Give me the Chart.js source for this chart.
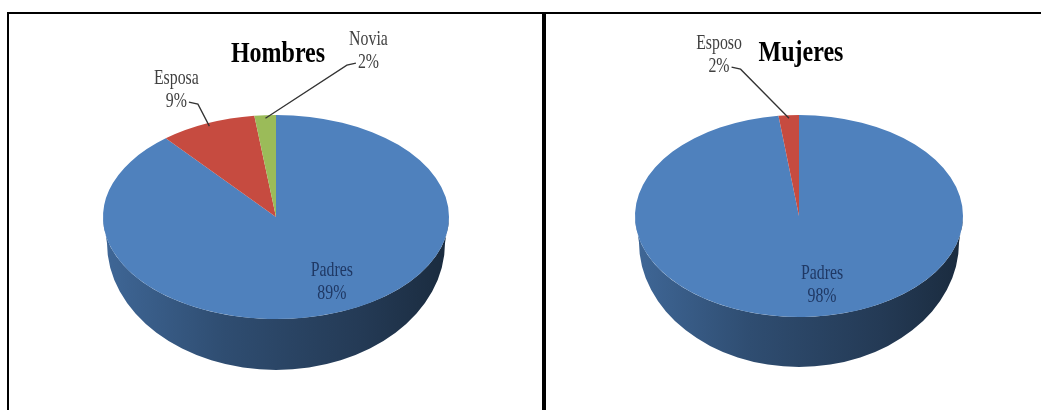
<!DOCTYPE html>
<html>
<head>
<meta charset="utf-8">
<script src="https://cdn.jsdelivr.net/npm/chart.js@4.4.1/dist/chart.umd.min.js"></script>
<style>
  html, body { margin: 0; background: #fff; }
  body { width: 1041px; height: 410px; position: relative; overflow: hidden; }
  .frame { position: absolute; left: 7px; top: 12px; width: 1100px; height: 420px;
           border-left: 2px solid #000; border-top: 2px solid #000; }
  .divider { position: absolute; left: 542px; top: 12px; width: 4px; height: 400px; background: #000; }
  .panel { position: absolute; top: 14px; height: 396px; }
  #p1 { left: 9px; width: 533px; }
  #p2 { left: 546px; width: 495px; }
</style>
</head>
<body>
<div class="frame"></div>
<div class="divider"></div>
<div class="panel" id="p1"><canvas id="hombresChart"></canvas></div>
<div class="panel" id="p2"><canvas id="mujeresChart"></canvas></div>

<script>
const titles = ["Hombres", "Mujeres"];
const hombresLabels = ["Padres", "Esposa", "Novia"];
const hombresValues = [89, 9, 2];
const mujeresLabels = ["Padres", "Esposo"];
const mujeresValues = [98, 2];

const sliceColors = ["#4F81BD", "#C64B40", "#9BBB59"];

function shade(hex, f) {
  const n = parseInt(hex.slice(1), 16);
  const r = (n >> 16) & 255, g = (n >> 8) & 255, b = n & 255;
  return `rgb(${Math.round(r * f)},${Math.round(g * f)},${Math.round(b * f)})`;
}

function drawScaledText(ctx, text, x, y, font, color, sx) {
  ctx.save();
  ctx.font = font;
  ctx.fillStyle = color;
  ctx.textAlign = "center";
  ctx.textBaseline = "alphabetic";
  ctx.translate(x, y);
  ctx.scale(sx, 1);
  ctx.fillText(text, 0, 0);
  const w = ctx.measureText(text).width * sx;
  ctx.restore();
  return w;
}

// tilts the pie into an ellipse and draws the front wall
const pie3d = {
  id: "pie3d",
  beforeDatasetsDraw(chart, args, o) {
    const ctx = chart.ctx;
    const arcs = chart.getDatasetMeta(0).data;
    const { x, y, outerRadius: r } = arcs[0].getProps(["x", "y", "outerRadius"], true);
    const ry = r * o.tilt;
    const bx = r * o.bottomRx, by = r * o.bottomRy;
    const colors = chart.data.datasets[0].backgroundColor;

    arcs.forEach((arc, i) => {
      const { startAngle, endAngle } = arc.getProps(["startAngle", "endAngle"], true);
      for (const base of [-2 * Math.PI, 0, 2 * Math.PI]) {
        const a1 = Math.max(startAngle, base);
        const a2 = Math.min(endAngle, base + Math.PI);
        if (a2 <= a1) continue;
        const g = ctx.createLinearGradient(x - r, 0, x + r, 0);
        g.addColorStop(0, shade(colors[i], 0.8));
        g.addColorStop(0.35, shade(colors[i], 0.6));
        g.addColorStop(0.75, shade(colors[i], 0.45));
        g.addColorStop(1, shade(colors[i], 0.33));
        ctx.beginPath();
        ctx.ellipse(x, y, r, ry, 0, a1, a2);
        ctx.ellipse(x, y + o.depth, bx, by, 0, a2, a1, true);
        ctx.closePath();
        ctx.fillStyle = g;
        ctx.fill();
      }
    });

    ctx.save();
    ctx.translate(x, y);
    ctx.scale(1, o.tilt);
    ctx.translate(-x, -y);
  },
  afterDatasetsDraw(chart) {
    chart.ctx.restore();
  },
  afterDraw(chart, args, o) {
    const ctx = chart.ctx;
    const ds = chart.data.datasets[0];
    const total = ds.data.reduce((a, b) => a + b, 0);
    const arcs = chart.getDatasetMeta(0).data;
    const { x, y, outerRadius: r } = arcs[0].getProps(["x", "y", "outerRadius"], true);
    const ry = r * o.tilt;
    const labelFont = '22px "Liberation Serif"';

    drawScaledText(ctx, o.title, x + 2, o.titleY, 'bold 30px "Liberation Serif"', "#000", 0.8);

    arcs.forEach((arc, i) => {
      const { startAngle, endAngle } = arc.getProps(["startAngle", "endAngle"], true);
      const mid = (startAngle + endAngle) / 2;
      const name = chart.data.labels[i];
      const pct = Math.round(ds.data[i] / total * 100) + "%";
      const callout = o.callouts[i];

      if (!callout) {
        const lx = x + r * o.inside * Math.cos(mid) + o.insideShift;
        const ly = y + ry * o.inside * Math.sin(mid);
        drawScaledText(ctx, name, lx, ly - 6, labelFont, "#1F3864", 0.72);
        drawScaledText(ctx, pct, lx, ly + 17, labelFont, "#1F3864", 0.72);
        return;
      }

      const ex = x + r * 0.97 * Math.cos(mid);
      const ey = y + ry * 0.97 * Math.sin(mid);
      const tx = ex + callout[0], ty = ey + callout[1];
      drawScaledText(ctx, name, tx, ty, labelFont, "#404040", 0.72);
      const w2 = drawScaledText(ctx, pct, tx, ty + 23, labelFont, "#404040", 0.72);

      const dir = tx < ex ? 1 : -1;
      const sx = tx + dir * (w2 / 2 + 2), sy = ty + 18;
      ctx.save();
      ctx.strokeStyle = "#333";
      ctx.lineWidth = 1.3;
      ctx.beginPath();
      ctx.moveTo(sx, sy);
      ctx.lineTo(sx + dir * 9, sy + 2);
      ctx.lineTo(ex, ey);
      ctx.stroke();
      ctx.restore();
    });
  }
};

function makePie(id, labels, values, padding, opts) {
  return new Chart(document.getElementById(id), {
    type: "pie",
    data: {
      labels: labels,
      datasets: [{
        data: values,
        backgroundColor: sliceColors.slice(0, values.length),
        borderWidth: 0,
        hoverBorderWidth: 0,
        hoverOffset: 0,
        offset: 0,
        clip: false
      }]
    },
    options: {
      responsive: true,
      maintainAspectRatio: false,
      animation: false,
      events: [],
      layout: { padding: padding },
      plugins: {
        legend: { display: false },
        tooltip: { enabled: false },
        pie3d: opts
      }
    },
    plugins: [pie3d]
  });
}

makePie("hombresChart", hombresLabels, hombresValues,
  { left: 94, right: 93, top: 30, bottom: 20 },
  {
    title: titles[0], titleY: 48,
    tilt: 0.59, depth: 26, bottomRx: 0.977, bottomRy: 0.734,
    inside: 0.68, insideShift: 16,
    callouts: [null, [-33, -42], [103, -73]]
  });

makePie("mujeresChart", mujeresLabels, mujeresValues,
  { left: 89, right: 78, top: 38, bottom: 30 },
  {
    title: titles[1], titleY: 47,
    tilt: 0.616, depth: 26, bottomRx: 0.976, bottomRy: 0.762,
    inside: 0.68, insideShift: 16,
    callouts: [null, [-70, -69]]
  });
</script>
</body>
</html>
